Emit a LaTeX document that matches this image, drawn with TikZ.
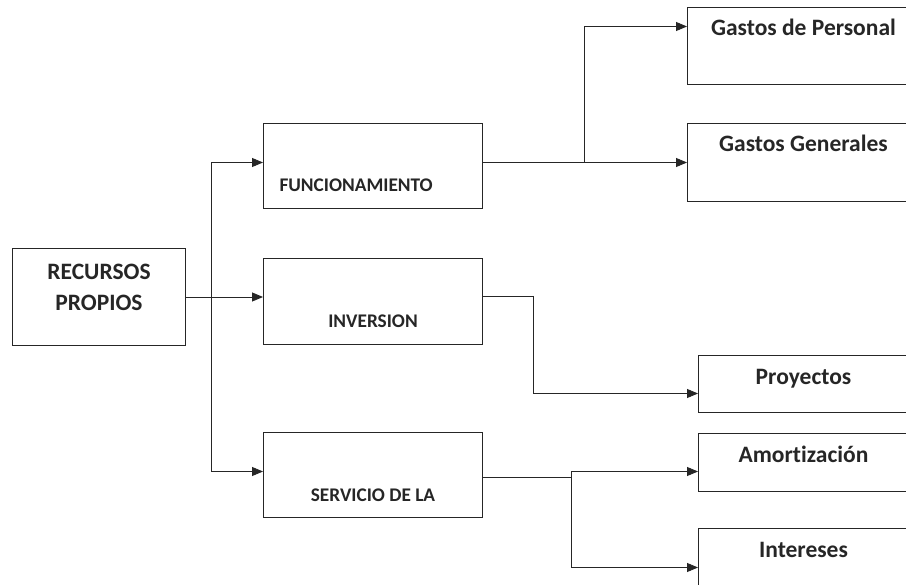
\documentclass[tikz,border=0pt]{standalone}
\usepackage{fontspec}
\setmainfont{Carlito}[Ligatures=NoCommon]
\usetikzlibrary{arrows.meta,positioning,calc}
\tikzset{
  % Define standard arrow tip
  >={Triangle[length=11pt,width=9pt]},
  % Define style for boxes
  box/.style={
    rectangle,
    draw=black!85, line width=1pt,
    inner sep=0pt,
    anchor=north west,
    text=black!85,
    font=\bfseries\fontsize{23.5}{31}\selectfont,
    align=center},
  % Define style for the middle boxes
  midbox/.style={
    box,
    minimum width=219pt,
    font=\bfseries\fontsize{19.3}{24}\selectfont},
  % Define style for the right boxes
  endbox/.style={
    box,
    minimum width=232pt,
    text height=29pt},
  % Define arrow style
  arrow/.style={
    ->,
    draw=black!85,
    line width=0.9pt},
  % line
  line/.style={draw=black!85, line width=0.9pt},
}

\begin{document}
\begin{tikzpicture}[x=1pt, y=-1pt]
  \useasboundingbox[fill=white] (0,0) rectangle (906,585);
  % nodes
  \node[box, minimum width=173pt, text height=62pt, text depth=35pt] (rec) at (12,248) {RECURSOS\\PROPIOS};
  \node[midbox, align=left, text width=187pt, inner xsep=16pt, text height=68.5pt, text depth=16.5pt] (fun) at (263,123) {FUNCIONAMIENTO};
  \node[midbox, text height=69.5pt, text depth=16.5pt] (inv) at (263,258) {INVERSION};
  \node[midbox, text height=69.5pt, text depth=15.5pt] (ser) at (263,432) {SERVICIO DE LA};
  \node[endbox, text height=28.5pt, text depth=48.5pt] (per) at (687,7) {Gastos de Personal};
  \node[endbox, text height=28.5pt, text depth=49.5pt] (gen) at (687,123) {Gastos Generales};
  \node[endbox, minimum width=210pt, text depth=28pt] (pro) at (698,355) {Proyectos};
  \node[endbox, minimum width=210pt, text depth=29pt] (amo) at (698,433) {Amortización};
  \node[endbox, minimum width=210pt, text depth=49pt] (int) at (698,528) {Intereses};
  % junctions
  \coordinate (jr) at (211,297);
  \coordinate (jf) at (584,162);
  \coordinate (ji) at (533,296);
  \coordinate (js) at (571,477);
  % connectors
  \path[line] (rec.east |- jr) -- (jr);
  \path[arrow] (jr) -- (jr -| inv.west);
  \path[arrow] (jr) |- ([yshift=3.5pt]fun.west);
  \path[arrow] (jr) |- ([yshift=3.5pt]ser.west);
  \path[arrow] ([yshift=3.5pt]fun.east) -- (gen.west);
  \path[arrow] (jf) |- ([yshift=19.5pt]per.west);
  \path[line] (inv.east |- ji) -- (ji);
  \path[arrow] (ji) |- ([yshift=-9.5pt]pro.west);
  \path[line] (ser.east |- js) -- (js);
  \path[arrow] ([yshift=-9pt]js) |- ([yshift=-9pt]amo.west);
  \path[arrow] ([yshift=-9pt]js) |- (int.west);
\end{tikzpicture}
\end{document}
